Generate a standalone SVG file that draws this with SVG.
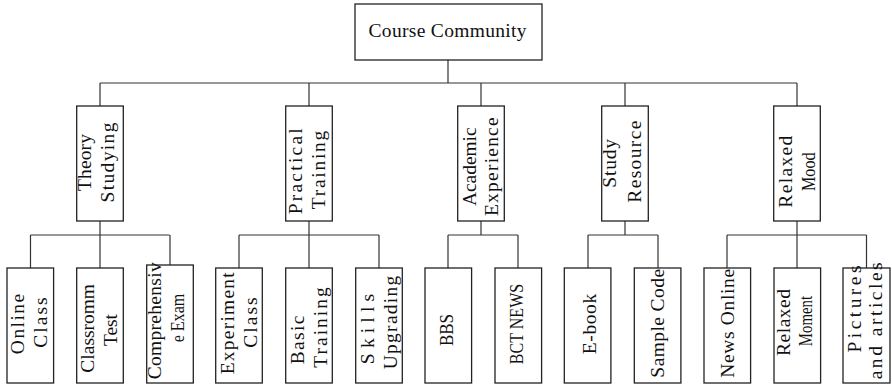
<svg xmlns="http://www.w3.org/2000/svg" width="892" height="386" viewBox="0 0 892 386">
<style>
.box{fill:#fff;stroke:#222;stroke-width:1.3}
.ln{fill:none;stroke:#333;stroke-width:1.2}
.t{font-family:"Liberation Serif","Times New Roman",serif;font-size:19.5px;fill:#111;text-anchor:middle}
</style>
<rect width="892" height="386" fill="#fff"/>
<g id="connectors">
<path class="ln" d="M448,60V83M100,83H797M100,83V106M309,83V106M481,83V106M625,83V106M797,83V106"/>
<path class="ln" d="M100,221V235M30.5,235H169.5M30.5,235V268M100,235V268M170,235V265"/>
<path class="ln" d="M309,221V235M239,235H379M239,235V268M309,235V268M379,235V268"/>
<path class="ln" d="M481,221V235M448,235H518M448,235V268M518,235V268"/>
<path class="ln" d="M625,221V235M588,235H658M588,235V268M658,235V268"/>
<path class="ln" d="M797,221V235M727,235H866.5M727,235V268M797,235V268M866.5,235V268"/>
</g>
<g id="root"><rect class="box" x="355" y="4" width="187" height="56"/><text class="t" x="447.5" y="37" textLength="158" lengthAdjust="spacing">Course Community</text></g>
<g id="theory"><rect class="box" x="76.7" y="106" width="46.6" height="115"/>
<text class="t" transform="translate(91,162.5) rotate(-90)" textLength="57" lengthAdjust="spacing">Theory</text>
<text class="t" transform="translate(114,162.5) rotate(-90)" textLength="80" lengthAdjust="spacing">Studying</text></g>
<g id="practical"><rect class="box" x="285.7" y="106" width="46.6" height="115"/>
<text class="t" transform="translate(302,171.3) rotate(-90)" textLength="86" lengthAdjust="spacing">Practical</text>
<text class="t" transform="translate(325,170) rotate(-90)" textLength="78.6" lengthAdjust="spacing">Training</text></g>
<g id="academic"><rect class="box" x="457.7" y="106" width="46.6" height="115"/>
<text class="t" transform="translate(476,166.7) rotate(-90)" textLength="78.7" lengthAdjust="spacing">Academic</text>
<text class="t" transform="translate(498,166.7) rotate(-90)" textLength="98.7" lengthAdjust="spacing">Experience</text></g>
<g id="study"><rect class="box" x="601.7" y="106" width="46.6" height="115"/>
<text class="t" transform="translate(616,163.3) rotate(-90)" textLength="48.7" lengthAdjust="spacing">Study</text>
<text class="t" transform="translate(641,161.7) rotate(-90)" textLength="82" lengthAdjust="spacing">Resource</text></g>
<g id="relaxed"><rect class="box" x="773.7" y="106" width="46.6" height="115"/>
<text class="t" transform="translate(792,171.7) rotate(-90)" textLength="72" lengthAdjust="spacing">Relaxed</text>
<text class="t" transform="translate(815,171.7) rotate(-90) scale(0.83,1)" textLength="46.6" lengthAdjust="spacing">Mood</text></g>
<g id="online"><rect class="box" x="7" y="268" width="46.6" height="115"/>
<text class="t" transform="translate(24,324) rotate(-90)" textLength="60.3" lengthAdjust="spacing">Online</text>
<text class="t" transform="translate(47,322.5) rotate(-90)" textLength="50.4" lengthAdjust="spacing">Class</text></g>
<g id="classroom"><rect class="box" x="76.7" y="268" width="46.6" height="115"/>
<text class="t" transform="translate(94,328.3) rotate(-90)" textLength="88.7" lengthAdjust="spacing">Classromm</text>
<text class="t" transform="translate(117,330) rotate(-90)" textLength="32" lengthAdjust="spacing">Test</text></g>
<g id="comprehensive"><rect class="box" x="146.7" y="265" width="46.6" height="118"/>
<text class="t" transform="translate(161,320.8) rotate(-90)" textLength="117" lengthAdjust="spacing">Comprehensiv</text>
<text class="t" transform="translate(184,318) rotate(-90) scale(0.83,1)" textLength="58.7" lengthAdjust="spacing">e Exam</text></g>
<g id="experiment"><rect class="box" x="215.7" y="268" width="46.6" height="115"/>
<text class="t" transform="translate(234,323.3) rotate(-90)" textLength="102" lengthAdjust="spacing">Experiment</text>
<text class="t" transform="translate(257,322.5) rotate(-90)" textLength="50.4" lengthAdjust="spacing">Class</text></g>
<g id="basic"><rect class="box" x="285.7" y="268" width="46.6" height="115"/>
<text class="t" transform="translate(304,340) rotate(-90)" textLength="48.6" lengthAdjust="spacing">Basic</text>
<text class="t" transform="translate(327,327.5) rotate(-90)" textLength="80.4" lengthAdjust="spacing">Training</text></g>
<g id="skills"><rect class="box" x="355.7" y="268" width="46.6" height="115"/>
<text class="t" transform="translate(374,329) rotate(-90)" textLength="70.3" lengthAdjust="spacing">Skills</text>
<text class="t" transform="translate(397,322.5) rotate(-90)" textLength="93.6" lengthAdjust="spacing">Upgrading</text></g>
<g id="bbs"><rect class="box" x="425" y="268" width="46.6" height="115"/>
<text class="t" transform="translate(453.3,330) rotate(-90) scale(0.87,1)" textLength="36.8" lengthAdjust="spacing">BBS</text></g>
<g id="bctnews"><rect class="box" x="495" y="268" width="46.6" height="115"/>
<text class="t" transform="translate(523.3,324) rotate(-90) scale(0.82,1)" textLength="98" lengthAdjust="spacing">BCT NEWS</text></g>
<g id="ebook"><rect class="box" x="564.3" y="268" width="46.6" height="115"/>
<text class="t" transform="translate(596,324) rotate(-90)" textLength="60.3" lengthAdjust="spacing">E-book</text></g>
<g id="samplecode"><rect class="box" x="634.3" y="268" width="46.6" height="115"/>
<text class="t" transform="translate(663.5,323.3) rotate(-90)" textLength="108.7" lengthAdjust="spacing">Sample Code</text></g>
<g id="newsonline"><rect class="box" x="704" y="268" width="46.6" height="115"/>
<text class="t" transform="translate(734,323.3) rotate(-90)" textLength="108.7" lengthAdjust="spacing">News Online</text></g>
<g id="relaxedmoment"><rect class="box" x="774" y="268" width="46.6" height="115"/>
<text class="t" transform="translate(790,322.5) rotate(-90)" textLength="67" lengthAdjust="spacing">Relaxed</text>
<text class="t" transform="translate(812,321) rotate(-90) scale(0.76,1)" textLength="66.2" lengthAdjust="spacing">Moment</text></g>
<g id="pictures"><rect class="box" x="843" y="268" width="47" height="115"/>
<text class="t" transform="translate(861,309) rotate(-90)" textLength="87" lengthAdjust="spacing">Pictures</text>
<text class="t" transform="translate(882,320.8) rotate(-90)" textLength="117" lengthAdjust="spacing">and articles</text></g>
</svg>
